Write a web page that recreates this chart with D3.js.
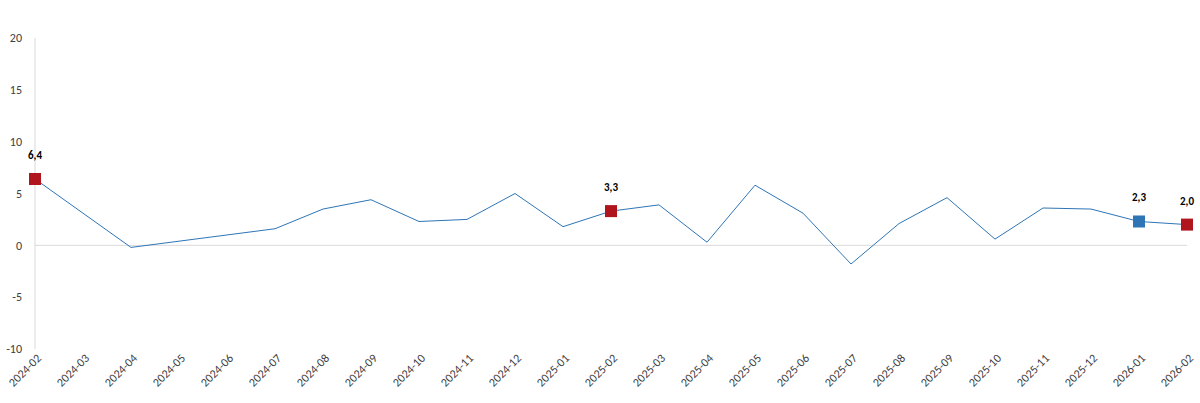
<!DOCTYPE html>
<html><head><meta charset="utf-8">
<script src="https://cdn.jsdelivr.net/npm/d3@7"></script>
<style>body{margin:0;background:#fff;font-family:Calibri,Carlito,"Liberation Sans",Arial,sans-serif}</style>
</head><body><div id="chart"></div>
<script>
const months = ["2024-02","2024-03","2024-04","2024-05","2024-06","2024-07","2024-08","2024-09","2024-10","2024-11","2024-12","2025-01","2025-02","2025-03","2025-04","2025-05","2025-06","2025-07","2025-08","2025-09","2025-10","2025-11","2025-12","2026-01","2026-02"];
const values = [6.4,3.1,-0.2,0.4,1.0,1.6,3.5,4.4,2.3,2.5,5.0,1.8,3.3,3.9,0.3,5.8,3.1,-1.8,2.1,4.6,0.6,3.6,3.5,2.3,2.0];
const yTicks = [-10,-5,0,5,10,15,20];
const redMarks = ["2024-02","2025-02","2026-02"];
const blueMarks = ["2026-01"];

const W = 1200, H = 403;
const svg = d3.select("#chart").append("svg").attr("width", W).attr("height", H);

const x = d3.scalePoint().domain(months).range([35, 1187]);
const y = d3.scaleLinear().domain([-10, 20]).range([349, 38]);

// y axis line
svg.append("line").attr("x1", 35).attr("x2", 35).attr("y1", y(20)).attr("y2", y(-10))
  .attr("stroke", "#d9d9d9");
// zero line
svg.append("line").attr("x1", 35).attr("x2", 1187).attr("y1", y(0)).attr("y2", y(0))
  .attr("stroke", "#d9d9d9");

svg.selectAll(".yt").data(yTicks).join("text")
  .attr("x", 22).attr("y", d => y(d)).attr("dy", "0.35em")
  .attr("text-anchor", "end").attr("font-size", 12).attr("fill", "#404040")
  .text(d => d);

svg.selectAll(".xt").data(months).join("text")
  .attr("transform", d => `translate(${x(d) + 4},${356}) rotate(-45)`)
  .attr("text-anchor", "end").attr("dy", "0.35em")
  .attr("font-size", 12).attr("fill", "#404040")
  .text(d => d);

const data = months.map((m, i) => ({ m, v: values[i] }));
svg.append("path").datum(data)
  .attr("fill", "none").attr("stroke", "#2e75b6").attr("stroke-width", 1)
  .attr("d", d3.line().x(d => x(d.m)).y(d => y(d.v)));

const marked = data.filter(d => redMarks.includes(d.m) || blueMarks.includes(d.m));
svg.selectAll(".mk").data(marked).join("rect")
  .attr("x", d => x(d.m) - 6).attr("y", d => y(d.v) - 6)
  .attr("width", 12).attr("height", 12)
  .attr("fill", d => redMarks.includes(d.m) ? "#b0151d" : "#2e75b6");

svg.selectAll(".lb").data(marked).join("text")
  .attr("x", d => x(d.m)).attr("y", d => y(d.v) - 20)
  .attr("text-anchor", "middle").attr("font-size", 11).attr("font-weight", "bold")
  .text(d => d.v.toFixed(1).replace(".", ","));
</script>
</body></html>
